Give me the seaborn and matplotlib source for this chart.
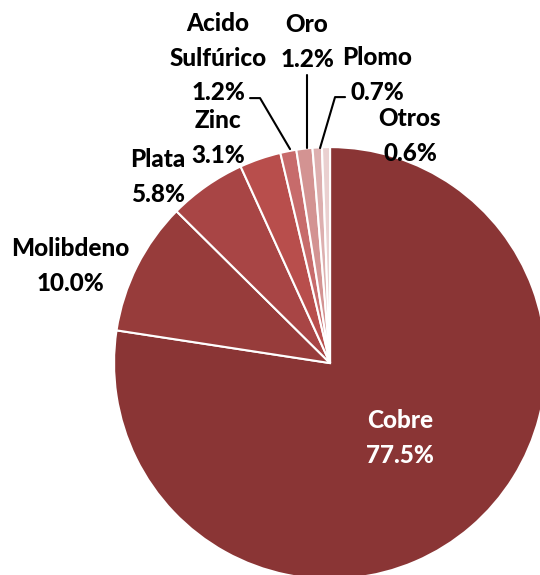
import matplotlib
matplotlib.use("Agg")
import matplotlib.pyplot as plt
import seaborn as sns

categories = ["Cobre", "Molibdeno", "Plata", "Zinc", "Acido\nSulfúrico", "Oro", "Plomo", "Otros"]
values = [77.5, 10.0, 5.8, 3.1, 1.2, 1.2, 0.7, 0.6]
colors = ["#8A3535", "#973C3B", "#A84545", "#B84E4C", "#C76B6B", "#D39392", "#DDAFAF", "#EAD0D0"]

sns.set_style("white")
plt.rcParams['font.family'] = ['Lato', 'DejaVu Sans']

fig = plt.figure(figsize=(5.4, 5.75), dpi=100)
ax = fig.add_axes([0, 0, 1, 1])
wedges, _ = ax.pie(values, colors=colors, startangle=90, counterclock=False,
                   wedgeprops=dict(edgecolor="white", linewidth=1.5))
ax.set_xlim(-1.528, 0.972)
ax.set_ylim(-0.981, 1.681)
ax.set_aspect("equal")
ax.axis("off")

S = 216.0
def d(px, py):
    return ((px - 330) / S, (363 - py) / S)

label_pos = [(400, 438), (70, 266), (158, 177), (218, 138), (218, 58), (307, 42), (377, 75), (410, 136)]
fs = 17.5
for i, (cat, val) in enumerate(zip(categories, values)):
    x, y = d(*label_pos[i])
    col = "white" if i == 0 else "black"
    ax.text(x, y, f"{cat}\n{val:.1f}%", ha="center", va="center", fontsize=fs,
            fontweight=900, color=col, linespacing=1.6)

# leader lines
for pts in [[(250, 98), (260, 98), (290, 149)],
            [(307, 75), (307, 148)],
            [(345, 97), (335, 97), (320, 148)]]:
    xs, ys = zip(*[d(*p) for p in pts])
    ax.plot(xs, ys, color="black", lw=1.5)

fig.savefig("out.png", dpi=100)
